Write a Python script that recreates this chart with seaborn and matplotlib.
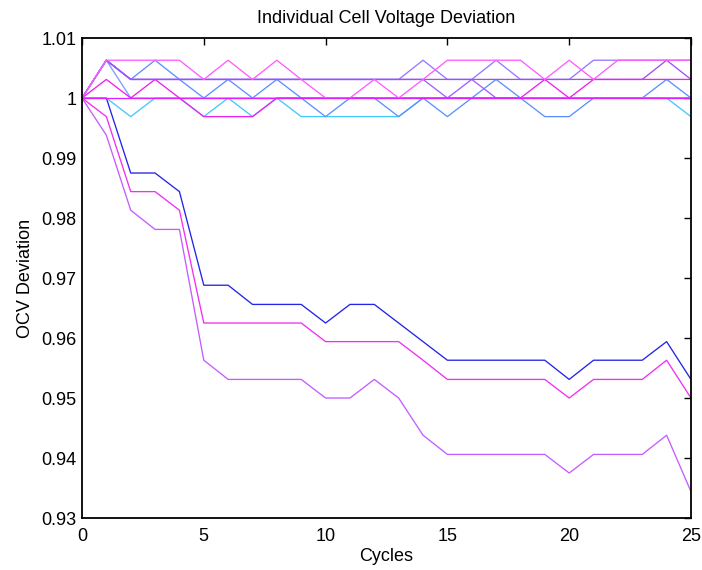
import numpy as np
import pandas as pd
import matplotlib
matplotlib.use("Agg")
import matplotlib.pyplot as plt
import seaborn as sns

cycles = list(range(26))

# lower (degrading) cells
cell_blue_low = [1.0, 1.0, 0.9875, 0.9875, 0.9844, 0.9688, 0.9688, 0.9656, 0.9656, 0.9656, 0.9625, 0.9656, 0.9656,
                 0.9625, 0.9594, 0.9563, 0.9563, 0.9563, 0.9563, 0.9563, 0.9531, 0.9563, 0.9563, 0.9563, 0.9594, 0.9531]
cell_magenta_low = [1.0, 0.9969, 0.9844, 0.9844, 0.9813, 0.9625, 0.9625, 0.9625, 0.9625, 0.9625, 0.9594, 0.9594, 0.9594,
                    0.9594, 0.9563, 0.9531, 0.9531, 0.9531, 0.9531, 0.9531, 0.9500, 0.9531, 0.9531, 0.9531, 0.9563, 0.9500]
cell_purple_low = [1.0, 0.9938, 0.9813, 0.9781, 0.9781, 0.9563, 0.9531, 0.9531, 0.9531, 0.9531, 0.9500, 0.9500, 0.9531,
                   0.9500, 0.9438, 0.9406, 0.9406, 0.9406, 0.9406, 0.9406, 0.9375, 0.9406, 0.9406, 0.9406, 0.9438, 0.9344]

# upper (healthy) cells
cell_lb = [1.0, 1.0, 0.9969, 1.0, 1.0, 0.9969, 1.0, 0.9969, 1.0, 0.9969, 0.9969, 0.9969, 0.9969,
           0.9969, 1.0, 1.0, 1.0, 1.0, 1.0, 1.0, 1.0, 1.0, 1.0, 1.0, 1.0, 0.9969]
cell_thin = [1.0, 1.0063, 1.0, 1.0, 1.0, 1.0, 1.0, 1.0, 1.0, 1.0, 1.0, 1.0, 1.0,
             1.0, 1.0, 1.0, 1.0, 1.0, 1.0, 1.0, 1.0, 1.0, 1.0, 1.0, 1.0, 1.0]
cell_zig = [1.0, 1.0063, 1.0031, 1.0063, 1.0031, 1.0, 1.0031, 1.0, 1.0031, 1.0, 0.9969, 1.0, 1.0,
            0.9969, 1.0, 0.9969, 1.0, 1.0031, 1.0, 0.9969, 0.9969, 1.0, 1.0, 1.0, 1.0031, 1.0]
cell_purple2 = [1.0, 1.0063, 1.0031, 1.0031, 1.0031, 1.0031, 1.0031, 1.0031, 1.0031, 1.0031, 1.0031, 1.0031, 1.0031,
                1.0031, 1.0031, 1.0, 1.0031, 1.0, 1.0, 1.0, 1.0, 1.0, 1.0, 1.0, 1.0, 1.0]
cell_violet = [1.0, 1.0063, 1.0031, 1.0031, 1.0031, 1.0031, 1.0031, 1.0031, 1.0031, 1.0031, 1.0031, 1.0031, 1.0031,
               1.0031, 1.0063, 1.0031, 1.0031, 1.0063, 1.0031, 1.0031, 1.0031, 1.0063, 1.0063, 1.0063, 1.0063, 1.0063]
cell_h1 = [1.0, 1.0063, 1.0031, 1.0031, 1.0031, 1.0031, 1.0031, 1.0031, 1.0031, 1.0031, 1.0031, 1.0031, 1.0031,
           1.0031, 1.0031, 1.0031, 1.0031, 1.0031, 1.0031, 1.0031, 1.0031, 1.0031, 1.0031, 1.0031, 1.0063, 1.0031]
cell_magenta = [1.0, 1.0031, 1.0, 1.0031, 1.0, 0.9969, 0.9969, 0.9969, 1.0, 1.0, 1.0, 1.0, 1.0,
                1.0, 1.0, 1.0, 1.0, 1.0, 1.0, 1.0031, 1.0, 1.0031, 1.0031, 1.0031, 1.0031, 1.0031]
cell_pink = [1.0, 1.0063, 1.0063, 1.0063, 1.0063, 1.0031, 1.0063, 1.0031, 1.0063, 1.0031, 1.0, 1.0, 1.0031,
             1.0, 1.0031, 1.0063, 1.0063, 1.0063, 1.0063, 1.0031, 1.0063, 1.0031, 1.0063, 1.0063, 1.0063, 1.0063]
cell_h0 = [1.0] * 26

cells = {
    "c1": cell_blue_low, "c2": cell_magenta_low, "c3": cell_purple_low,
    "c4": cell_lb, "c5": cell_thin, "c6": cell_zig, "c7": cell_purple2,
    "c8": cell_violet, "c9": cell_h1, "c10": cell_magenta, "c11": cell_pink, "c12": cell_h0,
}
colors = ["#2424e8", "#f030f0", "#c55cff",
          "#44c8ff", "#7d9dff", "#5f90ff", "#a060ff",
          "#9a78ff", "#a050f0", "#ee22ee", "#ff5cff", "#e020ff"]

rows = []
for name, vals in cells.items():
    for c, v in zip(cycles, vals):
        rows.append({"cycle": c, "value": v, "cell": name})
df = pd.DataFrame(rows)

sns.set_theme(style="white")
plt.rcParams['font.family'] = ['Liberation Sans', 'DejaVu Sans']
plt.rcParams['text.color'] = 'black'
plt.rcParams['axes.labelcolor'] = 'black'

fig = plt.figure(figsize=(7.02, 5.70), dpi=100)
ax = fig.add_axes([0.1168, 0.0912, 0.8675, 0.8421])
sns.lineplot(data=df, x="cycle", y="value", hue="cell", palette=colors,
             estimator=None, sort=False, legend=False, linewidth=0.95, ax=ax)

ax.set_xlim(0, 25)
ax.set_ylim(0.93, 1.01)
ax.set_xticks([0, 5, 10, 15, 20, 25])
yt = [0.93, 0.94, 0.95, 0.96, 0.97, 0.98, 0.99, 1.0, 1.01]
ax.set_yticks(yt)
ax.set_yticklabels(["0.93", "0.94", "0.95", "0.96", "0.97", "0.98", "0.99", "1", "1.01"])
ax.tick_params(direction="in", length=5, width=1, top=True, right=True,
               labelsize=13, colors="black")
ax.tick_params(axis="x", pad=7)
ax.tick_params(axis="y", pad=4)
for s in ax.spines.values():
    s.set_visible(True)
    s.set_color("black")
    s.set_linewidth(1.3)
ax.set_xlabel("Cycles", fontsize=13, labelpad=2)
ax.set_ylabel("OCV Deviation", fontsize=13, labelpad=5)
ax.set_title("Individual Cell Voltage Deviation", fontsize=13, pad=11)
ax.grid(False)

fig.savefig("out.png", dpi=100)
